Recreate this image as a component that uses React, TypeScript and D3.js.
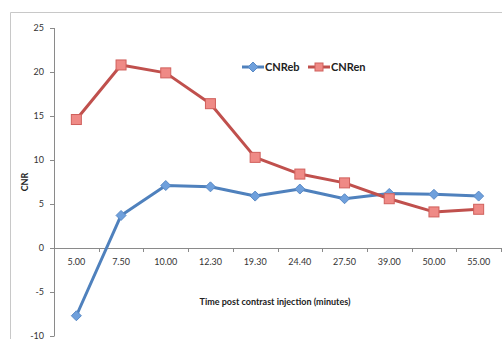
import React from "react";
import * as d3 from "d3";

const categories = ["5.00", "7.50", "10.00", "12.30", "19.30", "24.40", "27.50", "39.00", "50.00", "55.00"];
const cnrEb = [-7.7, 3.7, 7.1, 6.95, 5.9, 6.7, 5.6, 6.2, 6.1, 5.9];
const cnrEn = [14.6, 20.8, 19.9, 16.4, 10.3, 8.4, 7.4, 5.6, 4.1, 4.4];
const yTicks = [-10, -5, 0, 5, 10, 15, 20, 25];

const W = 502, H = 339;
const FONT = "Lato, 'Open Sans', sans-serif";

export default function App() {
  const x = d3.scaleBand<string>().domain(categories).range([54, 501]);
  const y = d3.scaleLinear().domain([-10, 25]).range([336, 28]);
  const cx = (c: string) => (x(c) as number) + x.bandwidth() / 2;
  const line = d3.line<number>().x((_, i) => cx(categories[i])).y((d) => y(d));
  const blue = "#4F81BD", red = "#C0504D";
  const tickEdges = categories.map((c) => x(c) as number).concat([501]);

  const diamond = (px: number, py: number, key: string) => (
    <path key={key} d={`M${px},${py - 5}L${px + 5},${py}L${px},${py + 5}L${px - 5},${py}Z`} fill="#6fa0dc" stroke="#5a8ac6" strokeWidth={1} />
  );
  const square = (px: number, py: number, key: string) => (
    <rect key={key} x={px - 5} y={py - 5} width={10} height={10} fill="#ef8a86" stroke="#d0605c" strokeWidth={1} />
  );

  return (
    <svg width={W} height={H} style={{ position: "absolute", left: 0, top: 0, background: "#fff" }}>
      <rect x={0} y={0} width={W} height={H} fill="#fff" />
      <path d={`M10.5,${H}V12.5H${W}`} fill="none" stroke="#c8c8c8" strokeWidth={1} />
      <line x1={54.5} x2={54.5} y1={y(25)} y2={y(-10)} stroke="#8a8a8a" />
      {yTicks.map((t) => (
        <g key={t}>
          <line x1={50} x2={54.5} y1={Math.round(y(t)) + 0.5} y2={Math.round(y(t)) + 0.5} stroke="#8a8a8a" />
          <text x={44} y={y(t)} dy="0.35em" textAnchor="end" fontSize={9} fill="#333" fontFamily={FONT}>{t}</text>
        </g>
      ))}
      <line x1={54} x2={501} y1={Math.round(y(0)) + 0.5} y2={Math.round(y(0)) + 0.5} stroke="#8a8a8a" />
      {tickEdges.map((t, i) => (
        <line key={i} x1={Math.round(t) + 0.5} x2={Math.round(t) + 0.5} y1={y(0)} y2={y(0) + 4} stroke="#8a8a8a" />
      ))}
      {categories.map((c) => (
        <text key={c} x={cx(c)} y={y(0) + 17} textAnchor="middle" fontSize={9} fill="#333" fontFamily={FONT}>{c}</text>
      ))}
      <text x={275} y={305} textAnchor="middle" fontSize={9} fontWeight="bold" fill="#222" fontFamily={FONT}>Time post contrast injection (minutes)</text>
      <text transform="translate(28,182) rotate(-90)" textAnchor="middle" fontSize={9} fontWeight="bold" fill="#222" fontFamily={FONT}>CNR</text>
      <path d={line(cnrEb) as string} fill="none" stroke={blue} strokeWidth={3} strokeLinejoin="round" />
      <path d={line(cnrEn) as string} fill="none" stroke={red} strokeWidth={3} strokeLinejoin="round" />
      {cnrEb.map((v, i) => diamond(cx(categories[i]), y(v), "b" + i))}
      {cnrEn.map((v, i) => square(cx(categories[i]), y(v), "r" + i))}
      <line x1={242} x2={264} y1={67} y2={67} stroke={blue} strokeWidth={3} />
      {diamond(253, 67, "lb")}
      <text x={265} y={67} dy="0.35em" fontSize={11} fontWeight="bold" fill="#222" fontFamily={FONT}>CNReb</text>
      <line x1={308} x2={330} y1={67} y2={67} stroke={red} strokeWidth={3} />
      <rect x={315} y={63} width={8} height={8} fill="#ef8a86" stroke="#d0605c" />
      <text x={331} y={67} dy="0.35em" fontSize={11} fontWeight="bold" fill="#222" fontFamily={FONT}>CNRen</text>
    </svg>
  );
}
